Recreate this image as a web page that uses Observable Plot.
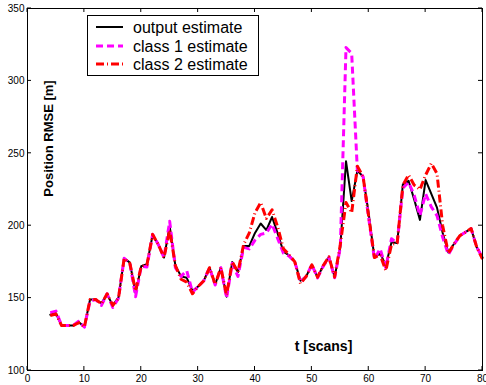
<!DOCTYPE html>
<html>
<head>
<meta charset="utf-8">
<script src="https://cdn.jsdelivr.net/npm/d3@7"></script>
<script src="https://cdn.jsdelivr.net/npm/@observablehq/plot@0.6"></script>
<style>
  html, body { margin: 0; padding: 0; background: #fff; }
  svg { display: block; }
</style>
</head>
<body>
<div id="chart"></div>
<script>
const scans = d3.range(4, 81);
const outputEstimate = [138.5,139.5,131,131,131,133.5,130,149,149,146.5,152.5,145,150.5,177.5,174.5,153.5,172,173.5,193.5,187,178,199.5,172.5,165,164,155,158,162,171,159.5,171,151,175,168,186,186,195,201.5,197,206,194.5,182,179.5,175,162,165,173,164.5,172.5,178.5,164.5,185,244.5,217,238,234,208,178,181,172.5,188.5,188,228.5,231,218,204,231.5,222,212.5,195,181.5,187.5,193,195.5,198,185,178];
const class1Estimate = [140,141,131,131,131,134,130,148,149,145,153,143.5,150,177.5,174,151,172,171.5,194,187,178,203,171,165,169,154,158,162,171,159,171,150,174,165,185,184,190,194,195,201,191,181,179,175,161,165,173,164,172,178,164,185,323,319,238,234,205,177,184,171,191,188,226,230,221,207,222,213,207,192,180,187,193,195.5,198,185,178];
const class2Estimate = [138,139,131,131,131,133,130,149,149,146,153,145,150,177.5,174,155,172,173,194,187,178,197,172.5,163,161,153,158,162,171,159.5,171,152,175,168,187,195,209,216,205,211,199,184,180,175,160,165,173,164.5,172.5,178.5,164.5,187,216,209,241,234,206,178,180,169,187,188,228,235,228,225,235,243,236,200,181,187.5,193,195.5,198,185,177];
const xTicks = [0,10,20,30,40,50,60,70,80];
const yTicks = [100,150,200,250,300,350];
const seriesNames = ["output estimate", "class 1 estimate", "class 2 estimate"];

const rows = (vals) => scans.map((t, i) => ({t, v: vals[i]}));
const outRows = rows(outputEstimate);
const c1Rows = rows(class1Estimate);
const c2Rows = rows(class2Estimate);

const styles = [
  {stroke: "#000000", strokeWidth: 2, dash: null},
  {stroke: "#ff00ff", strokeWidth: 3, dash: "7,4"},
  {stroke: "#ff0000", strokeWidth: 3, dash: "8,3,1,3"}
];

const chart = Plot.plot({
  width: 486,
  height: 385,
  marginLeft: 27,
  marginRight: 4,
  marginTop: 8,
  marginBottom: 15,
  style: {fontFamily: "'Liberation Sans', Arial, sans-serif", fontSize: "10px", color: "#000", background: "#fff"},
  x: {domain: [0, 80], ticks: xTicks},
  y: {domain: [100, 350], ticks: yTicks},
  marks: [
    Plot.axisX(xTicks, {tickSize: 0, tickPadding: 4, label: null, fontSize: 10}),
    Plot.axisY(yTicks, {tickSize: 0, tickPadding: 3, label: null, fontSize: 10}),
    Plot.line(outRows, {x: "t", y: "v", stroke: styles[0].stroke, strokeWidth: styles[0].strokeWidth}),
    Plot.line(c1Rows, {x: "t", y: "v", stroke: styles[1].stroke, strokeWidth: styles[1].strokeWidth, strokeDasharray: styles[1].dash, strokeLinecap: "butt"}),
    Plot.line(c2Rows, {x: "t", y: "v", stroke: styles[2].stroke, strokeWidth: styles[2].strokeWidth, strokeDasharray: styles[2].dash, strokeLinecap: "butt"}),
    Plot.text(["Position RMSE [m]"], {frameAnchor: "top-left", dx: 16, dy: 130, rotate: -90, fontWeight: "bold", fontSize: 13, fill: "#000", textAnchor: "middle"}),
    Plot.text(["t [scans]"], {frameAnchor: "bottom-left", dx: 296, dy: -20, fontWeight: "bold", fontSize: 14, fill: "#000", textAnchor: "middle"}),
    Plot.frame({stroke: "#000", strokeWidth: 1})
  ]
});

// inward tick marks on all four sides, positioned via the plot's scales
const sx = chart.scale("x"), sy = chart.scale("y");
const svgSel = d3.select(chart);
const tg = svgSel.append("g").attr("stroke", "#000").attr("stroke-width", 1);
const TL = 4;
const yTop = sy.apply(350), yBottom = sy.apply(100), xLeft = sx.apply(0), xRight = sx.apply(80);
for (const v of xTicks) {
  const px = sx.apply(v);
  tg.append("line").attr("x1", px).attr("x2", px).attr("y1", yBottom).attr("y2", yBottom - TL);
  tg.append("line").attr("x1", px).attr("x2", px).attr("y1", yTop).attr("y2", yTop + TL);
}
for (const v of yTicks) {
  const py = sy.apply(v);
  tg.append("line").attr("y1", py).attr("y2", py).attr("x1", xLeft).attr("x2", xLeft + TL);
  tg.append("line").attr("y1", py).attr("y2", py).attr("x1", xRight).attr("x2", xRight - TL);
}

// legend box
const lg = svgSel.append("g").attr("font-family", "'Liberation Sans', Arial, sans-serif")
  .attr("font-size", 16).attr("text-anchor", "start");
lg.append("rect").attr("x", 87.5).attr("y", 15.5).attr("width", 171).attr("height", 60)
  .attr("fill", "#fff").attr("stroke", "#000").attr("stroke-width", 1);
const rowY = [27, 46, 64];
seriesNames.forEach((name, i) => {
  const s = styles[i];
  const ln = lg.append("line").attr("x1", 96).attr("x2", 123).attr("y1", rowY[i]).attr("y2", rowY[i])
    .attr("stroke", s.stroke).attr("stroke-width", s.strokeWidth);
  if (s.dash) ln.attr("stroke-dasharray", s.dash);
  lg.append("text").attr("x", 133).attr("y", rowY[i]).attr("dy", "0.35em")
    .attr("text-anchor", "start").attr("fill", "#000").text(name);
});

document.getElementById("chart").appendChild(chart);
</script>
</body>
</html>
